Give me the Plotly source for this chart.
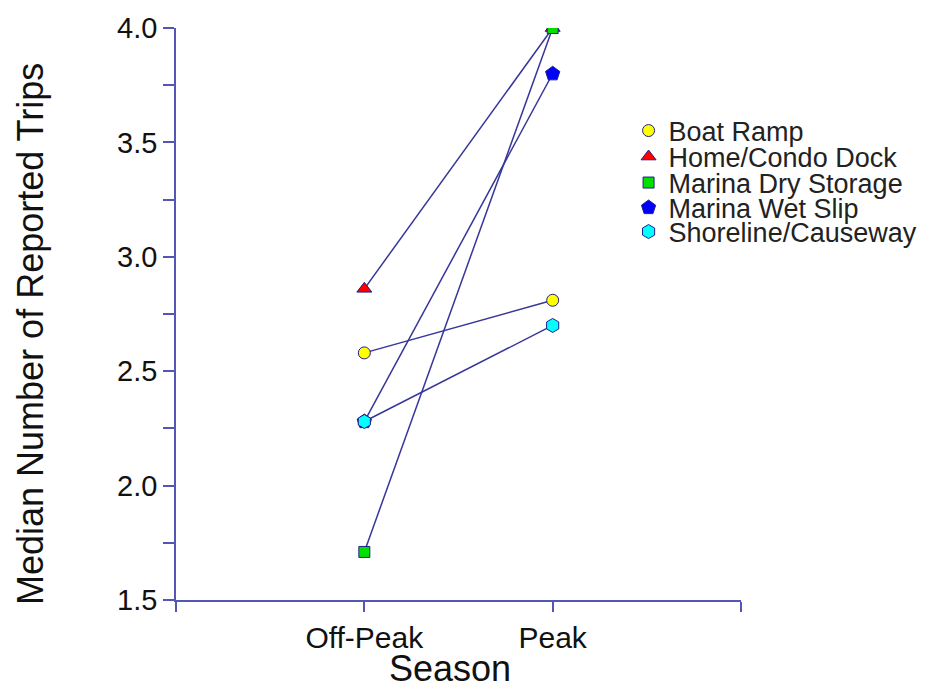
import plotly.graph_objects as go

seasons = ["Off-Peak", "Peak"]
series_names = ["Boat Ramp", "Home/Condo Dock", "Marina Dry Storage", "Marina Wet Slip", "Shoreline/Causeway"]
boat_ramp = [2.58, 2.81]
home_condo = [2.86, 4.00]
dry_storage = [1.71, 4.00]
wet_slip = [2.28, 3.80]
shoreline = [2.28, 2.70]
y_ticks = [1.5, 2.0, 2.5, 3.0, 3.5, 4.0]
x_title = "Season"
y_title = "Median Number of Reported Trips"

values = [boat_ramp, home_condo, dry_storage, wet_slip, shoreline]
symbols = ["circle", "triangle-up", "square", "pentagon", "hexagon"]
fills = ["#ffff00", "#ff0000", "#00e000", "#0000ff", "#00ffff"]
sizes = [12, 13, 11, 15, 14]

line_col = "#36369a"
axis_col = "#5555b5"
edge_col = "#20208a"

xpos = [i + 1 for i in range(len(seasons))]

fig = go.Figure()
# connecting lines (no legend entries)
for name, vals in zip(series_names, values):
    fig.add_trace(go.Scatter(
        x=xpos, y=vals, mode="lines", showlegend=False, hoverinfo="skip",
        line=dict(color=line_col, width=1.5),
    ))

# markers with one legend each, stacked tightly
legend_rows_px = [131, 157, 183, 208, 232]
plot_left, plot_right, plot_top, plot_bot = 176, 741, 28, 600
for i, (name, vals, sym, col, sz) in enumerate(zip(series_names, values, symbols, fills, sizes)):
    lg = "legend" if i == 0 else f"legend{i+1}"
    fig.add_trace(go.Scatter(
        x=xpos, y=vals, name=name, mode="markers", legend=lg,
        marker=dict(symbol=sym, color=col, size=sz, line=dict(color=edge_col, width=1)),
    ))

legend_cfg = {}
for i, ypx in enumerate(legend_rows_px):
    key = "legend" if i == 0 else f"legend{i+1}"
    legend_cfg[key] = dict(
        x=0.801, y=(plot_bot - ypx) / (plot_bot - plot_top),
        xanchor="left", yanchor="middle",
        font=dict(size=27, color="#222222"), itemwidth=30,
        bgcolor="rgba(0,0,0,0)", borderwidth=0,
    )

fig.update_layout(
    width=926, height=689,
    margin=dict(l=plot_left, r=926 - plot_right, t=plot_top, b=689 - plot_bot, autoexpand=False),
    paper_bgcolor="white", plot_bgcolor="white",
    font=dict(family="Liberation Sans, Arial, sans-serif", color="#111111"),
    showlegend=True,
    **legend_cfg,
)
fig.update_xaxes(
    range=[0, len(seasons) + 1],
    tickmode="array", tickvals=[0] + xpos + [len(seasons) + 1],
    ticktext=[""] + seasons + [""],
    showline=True, linecolor=axis_col, linewidth=1.5,
    ticks="outside", ticklen=10, tickcolor=axis_col, tickwidth=1.5,
    showgrid=False, zeroline=False,
    tickfont=dict(size=30),
)
fig.update_yaxes(
    range=[1.5, 4.0],
    tickmode="array", tickvals=y_ticks, tickformat=".1f",
    showline=True, linecolor=axis_col, linewidth=1.5,
    ticks="outside", ticklen=11, tickcolor=axis_col, tickwidth=1.5,
    minor=dict(tick0=1.5, dtick=0.25, ticks="outside", ticklen=11,
               tickcolor=axis_col, tickwidth=1.5, showgrid=False),
    showgrid=False, zeroline=False,
    tickfont=dict(size=29),
)

fig.add_annotation(
    text=x_title, xref="paper", yref="paper",
    x=(450 - plot_left) / (plot_right - plot_left),
    y=-(668 - plot_bot) / (plot_bot - plot_top),
    xanchor="center", yanchor="middle", showarrow=False,
    font=dict(size=36, color="#111111"),
)
fig.add_annotation(
    text=y_title, xref="paper", yref="paper", textangle=-90,
    x=-(plot_left - 30) / (plot_right - plot_left),
    y=(plot_bot - 334) / (plot_bot - plot_top),
    xanchor="center", yanchor="middle", showarrow=False,
    font=dict(size=36, color="#111111"),
)

fig.write_html("out.html")
